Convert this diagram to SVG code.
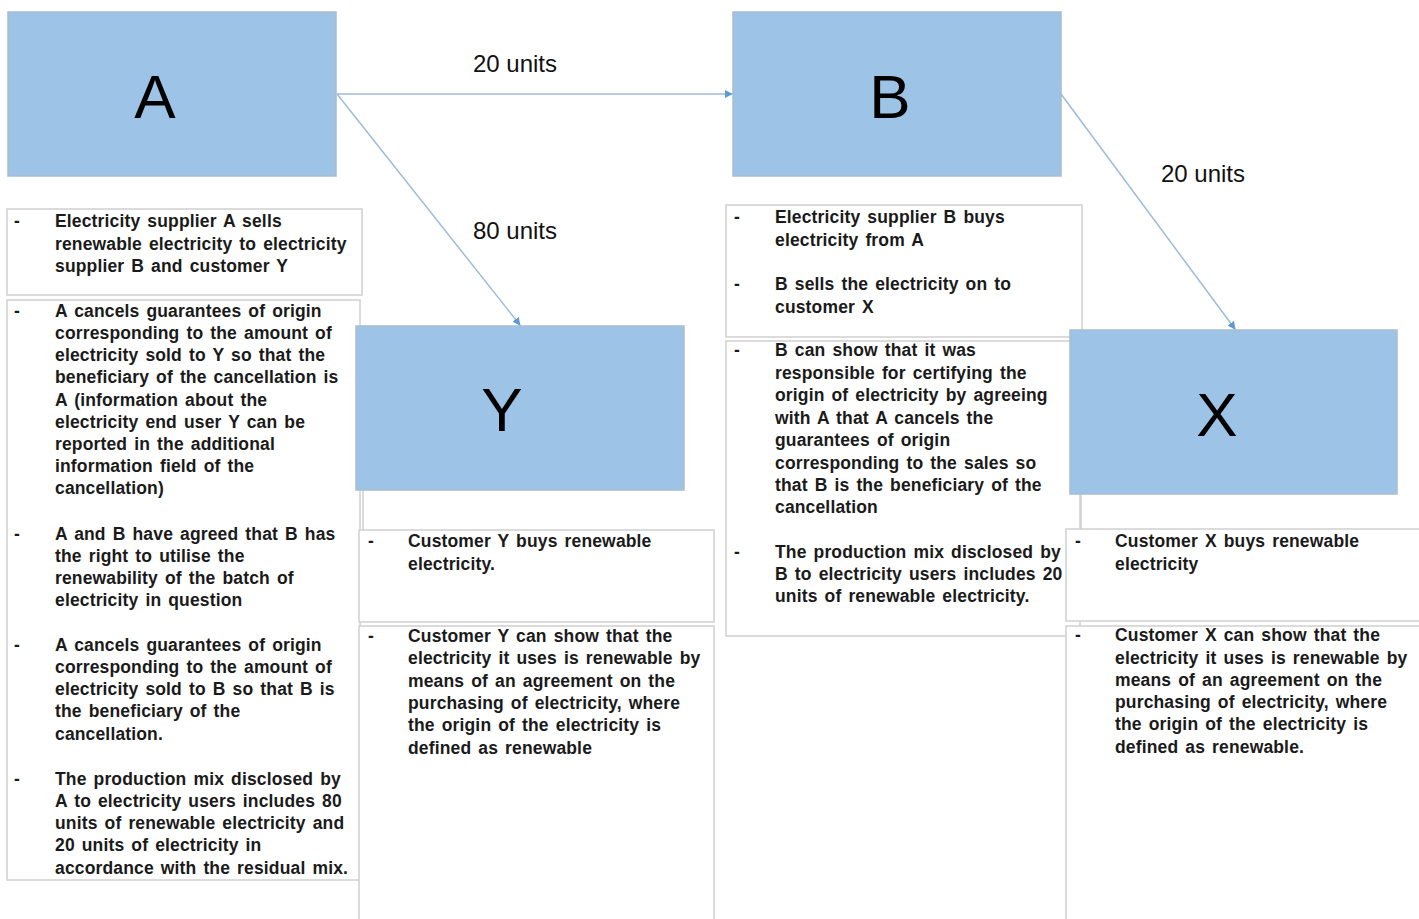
<svg xmlns="http://www.w3.org/2000/svg" width="1419" height="919" viewBox="0 0 1419 919">
<style>
.node{fill:#9dc3e6;stroke:#a9bcd0;stroke-width:1.5}
.big{font-family:"Liberation Sans",Arial,sans-serif;font-size:62px;fill:#000;text-anchor:middle}
.lbl{font-family:"Liberation Sans",Arial,sans-serif;font-size:24px;fill:#111;text-anchor:middle}
.tb{fill:#fff;stroke:#d0d0d0;stroke-width:1.5}
.t{font-family:"Liberation Sans",Arial,sans-serif;font-size:17.5px;font-weight:bold;fill:#1a1a1a;letter-spacing:0.15px;word-spacing:2px}
.c{stroke:#9dbbdb;stroke-width:1.5;fill:none}
.gl{stroke:#d0d0d0;stroke-width:1.5;fill:none}
</style>
<defs>
<marker id="ah" viewBox="0 0 10 10" refX="9" refY="5" markerWidth="8" markerHeight="8" orient="auto" markerUnits="userSpaceOnUse">
<path d="M0,0 L10,5 L0,10 z" fill="#5b9bd5"/>
</marker>
</defs>
<rect width="1419" height="919" fill="#fff"/>

<g id="text-A1">
<rect class="tb" x="7" y="209" width="355" height="86"/>
<text class="t" x="14" y="227">-</text>
<text class="t"><tspan x="55" y="227">Electricity  supplier  A sells</tspan><tspan x="55" y="250">renewable electricity  to electricity</tspan><tspan x="55" y="272">supplier  B and customer Y</tspan></text>
</g>

<g id="text-A2">
<rect class="tb" x="7" y="300" width="353" height="580"/>
<line class="gl" x1="360" y1="880" x2="360" y2="919"/>
<text class="t"><tspan x="14" y="317">-</tspan><tspan x="14" y="540">-</tspan><tspan x="14" y="651">-</tspan><tspan x="14" y="785">-</tspan></text>
<text class="t"><tspan x="55" y="317">A cancels  guarantees  of origin</tspan><tspan x="55" y="339">corresponding  to the amount of</tspan><tspan x="55" y="361">electricity  sold to Y so that the</tspan><tspan x="55" y="383">beneficiary  of the cancellation  is</tspan><tspan x="55" y="406">A (information  about the</tspan><tspan x="55" y="428">electricity  end user Y can be</tspan><tspan x="55" y="450">reported  in the additional</tspan><tspan x="55" y="472">information  field  of the</tspan><tspan x="55" y="494">cancellation)</tspan></text>
<text class="t"><tspan x="55" y="540">A and B have agreed that B has</tspan><tspan x="55" y="562">the right to utilise  the</tspan><tspan x="55" y="584">renewability  of the batch of</tspan><tspan x="55" y="606">electricity  in question</tspan></text>
<text class="t"><tspan x="55" y="651">A cancels  guarantees  of origin</tspan><tspan x="55" y="673">corresponding  to the amount of</tspan><tspan x="55" y="695">electricity  sold to B so that B is</tspan><tspan x="55" y="717">the beneficiary  of the</tspan><tspan x="55" y="740">cancellation.</tspan></text>
<text class="t"><tspan x="55" y="785">The production  mix disclosed  by</tspan><tspan x="55" y="807">A to electricity  users includes  80</tspan><tspan x="55" y="829">units  of renewable electricity  and</tspan><tspan x="55" y="851">20 units  of electricity  in</tspan><tspan x="55" y="874">accordance  with the residual  mix.</tspan></text>
</g>

<g id="text-Y1">
<line class="gl" x1="363" y1="490" x2="363" y2="530"/>
<rect class="tb" x="359" y="530" width="355" height="92"/>
<text class="t" x="368" y="547">-</text>
<text class="t"><tspan x="408" y="547">Customer  Y buys  renewable</tspan><tspan x="408" y="570">electricity.</tspan></text>
</g>

<g id="text-Y2">
<rect class="tb" x="359" y="626" width="355" height="300"/>
<text class="t" x="368" y="642">-</text>
<text class="t"><tspan x="408" y="642">Customer  Y can show that the</tspan><tspan x="408" y="664">electricity  it uses is renewable by</tspan><tspan x="408" y="687">means  of an agreement  on the</tspan><tspan x="408" y="709">purchasing  of electricity,  where</tspan><tspan x="408" y="731">the origin  of the electricity  is</tspan><tspan x="408" y="754">defined  as renewable</tspan></text>
</g>

<g id="text-B1">
<rect class="tb" x="726" y="205" width="356" height="132"/>
<text class="t"><tspan x="734" y="223">-</tspan><tspan x="734" y="290">-</tspan></text>
<text class="t"><tspan x="775" y="223">Electricity  supplier  B buys</tspan><tspan x="775" y="246">electricity  from  A</tspan><tspan x="775" y="290">B sells  the electricity  on to</tspan><tspan x="775" y="313">customer  X</tspan></text>
</g>

<g id="text-B2">
<rect class="tb" x="726" y="341" width="354" height="295"/>
<text class="t"><tspan x="734" y="356">-</tspan><tspan x="734" y="558">-</tspan></text>
<text class="t"><tspan x="775" y="356">B can show that it was</tspan><tspan x="775" y="379">responsible  for certifying  the</tspan><tspan x="775" y="401">origin  of electricity  by agreeing</tspan><tspan x="775" y="424">with A that A cancels  the</tspan><tspan x="775" y="446">guarantees  of origin</tspan><tspan x="775" y="469">corresponding  to the sales so</tspan><tspan x="775" y="491">that B is the beneficiary  of the</tspan><tspan x="775" y="513">cancellation</tspan></text>
<text class="t"><tspan x="775" y="558">The production  mix disclosed  by</tspan><tspan x="775" y="580">B to electricity  users includes  20</tspan><tspan x="775" y="602">units  of renewable electricity.</tspan></text>
</g>

<g id="text-X1">
<line class="gl" x1="1081" y1="494" x2="1081" y2="529"/>
<rect class="tb" x="1066" y="529" width="360" height="92"/>
<text class="t" x="1075" y="547">-</text>
<text class="t"><tspan x="1115" y="547">Customer  X buys  renewable</tspan><tspan x="1115" y="570">electricity</tspan></text>
</g>

<g id="text-X2">
<rect class="tb" x="1066" y="626" width="360" height="300"/>
<text class="t" x="1075" y="641">-</text>
<text class="t"><tspan x="1115" y="641">Customer  X can show that the</tspan><tspan x="1115" y="664">electricity  it uses is renewable by</tspan><tspan x="1115" y="686">means  of an agreement  on the</tspan><tspan x="1115" y="708">purchasing  of electricity,  where</tspan><tspan x="1115" y="730">the origin  of the electricity  is</tspan><tspan x="1115" y="753">defined  as renewable.</tspan></text>
</g>

<g id="node-A">
<rect class="node" x="8" y="12" width="328" height="164"/>
<text class="big" x="155" y="118">A</text>
</g>
<g id="node-B">
<rect class="node" x="733" y="12" width="328" height="164"/>
<text class="big" x="890" y="118">B</text>
</g>
<g id="node-Y">
<rect class="node" x="356" y="326" width="328" height="164"/>
<text class="big" x="502" y="431">Y</text>
</g>
<g id="node-X">
<rect class="node" x="1070" y="330" width="327" height="164"/>
<text class="big" x="1217" y="436">X</text>
</g>

<g id="connectors">
<line class="c" x1="337" y1="94" x2="732" y2="94" marker-end="url(#ah)"/>
<line class="c" x1="337" y1="94" x2="520" y2="325" marker-end="url(#ah)"/>
<line class="c" x1="1061" y1="94" x2="1235" y2="329" marker-end="url(#ah)"/>
<text class="lbl" x="515" y="72">20 units</text>
<text class="lbl" x="515" y="239">80 units</text>
<text class="lbl" x="1203" y="182">20 units</text>
</g>
</svg>
